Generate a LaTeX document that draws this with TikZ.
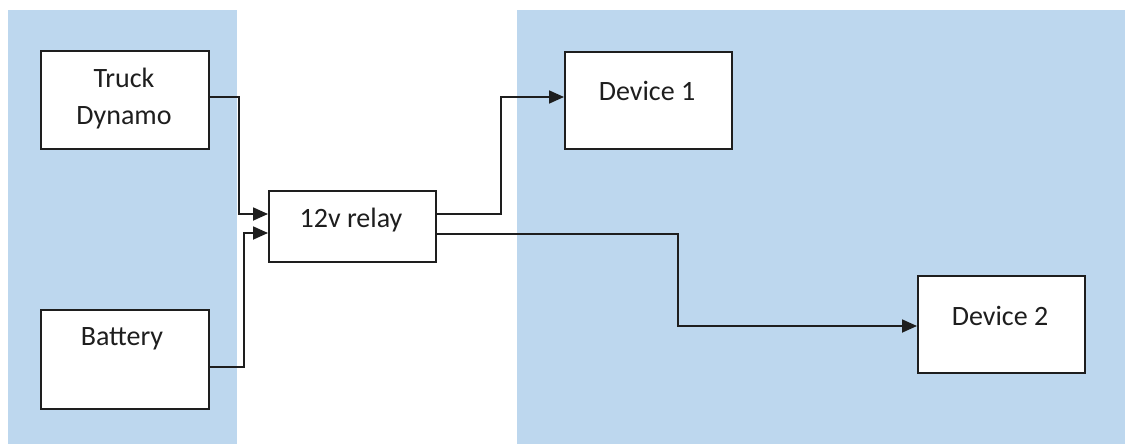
\documentclass[tikz,border=0pt]{standalone}
\usepackage{fontspec}
\setmainfont{Carlito}
\usetikzlibrary{arrows.meta,calc}
\definecolor{panelblue}{HTML}{BDD7EE}
\definecolor{inkline}{HTML}{1E1E1E}
\begin{document}
\begin{tikzpicture}[x=1pt,y=-1pt,
  panel/.style={fill=panelblue,draw=none},
  box/.style={draw=inkline,line width=2pt,fill=white,rectangle,inner sep=0pt,anchor=north west},
  lbl/.style={font=\fontsize{28}{37}\selectfont,text=inkline,align=center,inner sep=0pt},
  wire/.style={draw=inkline,line width=1.8pt},
  arr/.style={wire,-{Triangle[length=15pt,width=13pt]}}]
  % canvas and the two shaded regions
  \useasboundingbox[fill=white] (0,0) rectangle (1125,444);
  \fill[panel] (8,10) rectangle (237,444);
  \fill[panel] (517,10) rectangle (1125,444);

  % boxes
  \node[box,minimum width=168pt,minimum height=98pt] (dyn) at (40,50) {};
  \node[box,minimum width=168pt,minimum height=99pt] (bat) at (40,309) {};
  \node[box,minimum width=167pt,minimum height=71pt] (relay) at (268,190) {};
  \node[box,minimum width=167pt,minimum height=97pt] (dev1) at (564,51) {};
  \node[box,minimum width=167pt,minimum height=97pt] (dev2) at (917,275) {};

  % box texts
  \node[lbl] (dyntxt) at (124,99) {Truck\\Dynamo};
  \node[lbl] (battxt) at (122,339) {Battery};
  \node[lbl] (relaytxt) at (351,220) {12v relay};
  \node[lbl] (dev1txt) at (647,91) {Device 1};
  \node[lbl] (dev2txt) at (1000,316) {Device 2};

  % connection points on the relay and sources
  \coordinate (rinA) at ($(relay.west)+(0,-12.5)$);
  \coordinate (rinB) at ($(relay.west)+(0,6.5)$);
  \coordinate (routA) at ($(relay.east)+(0,-12.5)$);
  \coordinate (routB) at ($(relay.east)+(0,7.5)$);
  \coordinate (dynout) at ($(dyn.east)+(0,-3)$);
  \coordinate (batout) at ($(bat.east)+(0,7.5)$);
  \coordinate (dev1in) at ($(dev1.west)+(0,-3.5)$);
  \coordinate (dev2in) at ($(dev2.west)+(0,1.5)$);

  % wiring
  \draw[arr] (dynout) -- ++(29,0) |- (rinA);
  \draw[arr] (batout) -- ++(34,0) |- (rinB);
  \draw[arr] (routA) -- ++(64,0) |- (dev1in);
  \draw[arr] (routB) -- ++(241,0) |- (dev2in);
\end{tikzpicture}
\end{document}
